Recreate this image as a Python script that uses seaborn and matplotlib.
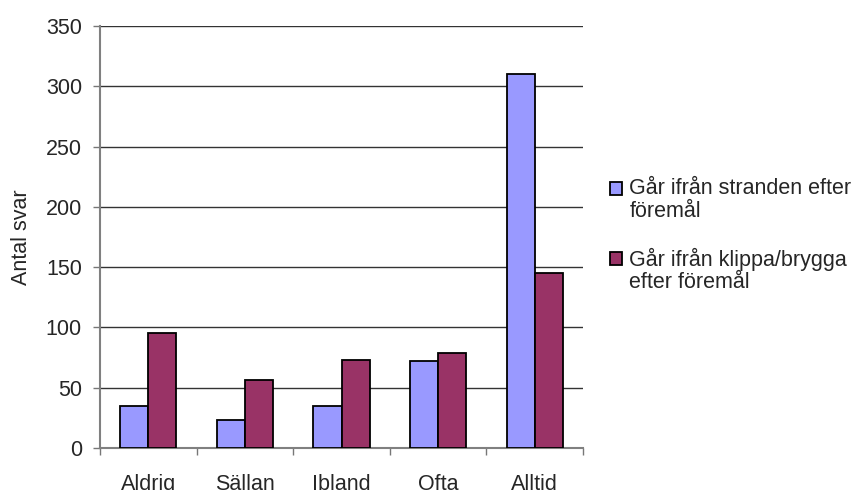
import matplotlib
matplotlib.use("Agg")
import matplotlib.pyplot as plt
import seaborn as sns
import pandas as pd

kategorier = ["Aldrig", "Sällan", "Ibland", "Ofta", "Alltid"]
serie_namn = ["Går ifrån stranden efter\nföremål", "Går ifrån klippa/brygga\nefter föremål"]
strand = [35, 23, 35, 72, 310]
klippa = [95, 56, 73, 79, 145]
farger = ["#9999FF", "#993366"]

df = pd.DataFrame({
    "kategori": kategorier * 2,
    "antal": strand + klippa,
    "serie": [serie_namn[0]] * 5 + [serie_namn[1]] * 5,
})

sns.set_style("white")
plt.rcParams["font.family"] = ["Liberation Sans", "DejaVu Sans"]
fs = 15.5

fig = plt.figure(figsize=(8.65, 4.9), dpi=100)
ax = fig.add_axes([100 / 865, 42 / 490, 483 / 865, 422 / 490])

sns.barplot(data=df, x="kategori", y="antal", hue="serie", palette=farger,
            width=0.58, gap=0, edgecolor="black", linewidth=1.3, ax=ax,
            saturation=1, zorder=3)

ax.set_ylim(0, 350)
ax.set_xlim(-0.5, 4.5)
ax.set_yticks(range(0, 351, 50))
ax.yaxis.grid(True, color="#333333", linewidth=1, zorder=0)
ax.set_axisbelow(True)

ax.set_xlabel("")
ax.set_ylabel("Antal svar", fontsize=fs, labelpad=10)
ax.tick_params(axis="y", length=5, width=1, color="#777777", labelsize=fs, pad=8, left=True)
ax.tick_params(axis="x", which="major", length=0, labelsize=fs, pad=19)
ax.set_xticks([i - 0.5 for i in range(6)], minor=True)
ax.tick_params(axis="x", which="minor", length=5, width=1, color="#777777", bottom=True)

for s in ["top", "right"]:
    ax.spines[s].set_visible(False)
for s in ["left", "bottom"]:
    ax.spines[s].set_color("#808080")
    ax.spines[s].set_linewidth(1.5)

leg = ax.legend(loc="upper left", bbox_to_anchor=(610 / 865, 1 - 178 / 490),
                bbox_transform=fig.transFigure, frameon=False, fontsize=fs,
                handlelength=0.55, handleheight=0.55, handletextpad=0.35,
                labelspacing=1.2, borderaxespad=0, borderpad=0)
for t in leg.get_texts():
    t.set_linespacing(1.1)
# flytta rutan upp till första textraden
for h in leg.legend_handles:
    h.set_y(h.get_y() + 8.5)
    h.set_linewidth(1.3)

fig.savefig("out.png", dpi=100)
